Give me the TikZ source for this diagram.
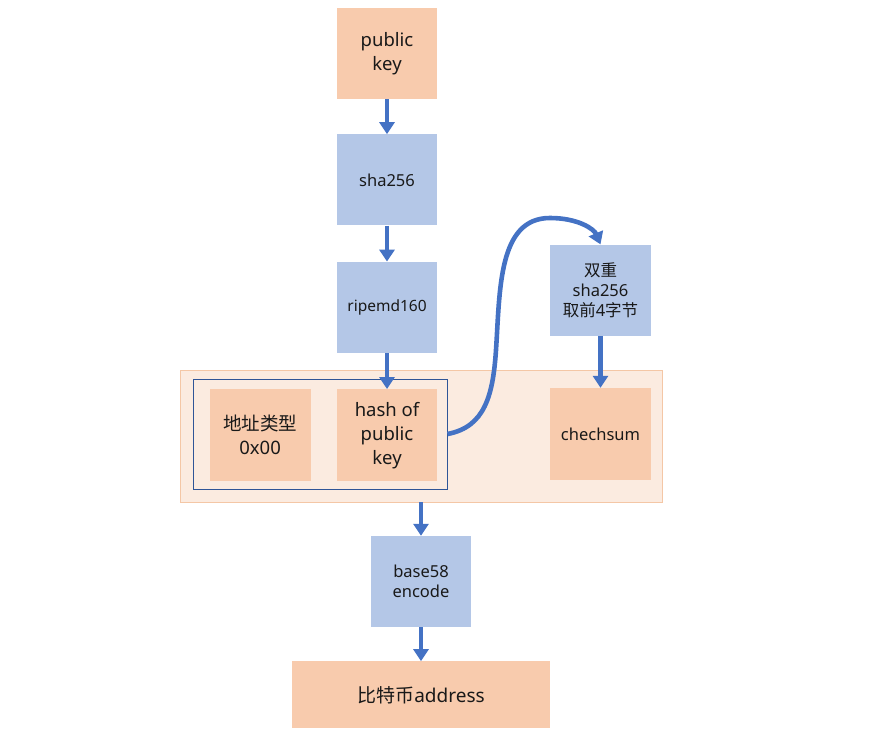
\documentclass[tikz,border=0pt]{standalone}
\usepackage{fontspec}
\setmainfont{Noto Sans}
\newfontfamily\cjk{Noto Sans CJK SC}
\usepackage{xcolor}
\usetikzlibrary{positioning,arrows.meta}

\definecolor{peach}{HTML}{F8CBAD}
\definecolor{paleblue}{HTML}{B4C7E7}
\definecolor{arrowblue}{HTML}{4472C4}
\definecolor{framefill}{HTML}{FBEBE0}
\definecolor{frameedge}{HTML}{F4C7A6}
\definecolor{inneredge}{HTML}{2F5597}

\begin{document}
\begin{tikzpicture}[
		x=1pt, y=-1pt,
		box/.style={align=center, inner sep=2pt, text=black!90, minimum width=100pt, minimum height=91pt},
		data/.style={box, fill=peach},
		op/.style={box, fill=paleblue},
		big/.style={font=\fontsize{18.5}{24}\selectfont},
		mid/.style={font=\fontsize{16.5}{20}\selectfont},
		arr/.style={-{Triangle[length=12pt, width=15pt]}, line width=4.6pt, arrowblue}
		]
		\useasboundingbox (0,0) rectangle (879,734);
		% outer frame around the concatenated bytes
		\node[draw=frameedge, fill=framefill, minimum width=482pt, minimum height=132pt] (frame) at (421,436) {};
		\node[data, big] (pubkey) at (387,53.5) {public\\key};
		\node[op, mid, below=35pt of pubkey] (sha) {sha256};
		\node[op, font=\fontsize{15.5}{20}\selectfont, below=36pt of sha] (ripemd) {ripemd160};
		\node[data, big, below=36pt of ripemd, minimum height=92pt] (hashpk) {hash of\\public\\key};
		\node[data, big, left=26pt of hashpk, minimum width=101pt, minimum height=92pt] (atype) {{\cjk 地址类型}\\0x00};
		\node[draw=inneredge, line width=1pt, minimum width=254pt, minimum height=110pt] (inner) at (320,434) {};
		\node[data, mid, minimum width=101pt, minimum height=92pt] (chk) at (600.5,434) {chechsum};
		\node[op, mid, above=52pt of chk, minimum width=101pt] (dblsha) {{\cjk 双重}\\sha256\\{\cjk 取前}4{\cjk 字节}};
		\node[op, mid] (b58) at (421,581.5) {base58\\encode};
		\node[data, font=\fontsize{19}{24}\selectfont, minimum width=258pt, minimum height=67pt, below=34pt of b58] (addr) {{\cjk 比特币}address};
		\draw[arr] (pubkey) -- (sha);
		\draw[arr] (sha) -- (ripemd);
		\draw[arr] (ripemd) -- (hashpk);
		\draw[arr] (dblsha) -- (chk);
		\draw[arr] (frame.south -| b58) -- (b58);
		\draw[arr] (b58) -- (b58 |- addr.north);
		\draw[arr] (inner.east) .. controls (485,427) and (493,395) .. (496,350)
		.. controls (500,290) and (498,218) .. (550,218)
		.. controls (578,218) and (594,229) .. (dblsha.north);
	\end{tikzpicture}
\end{document}
